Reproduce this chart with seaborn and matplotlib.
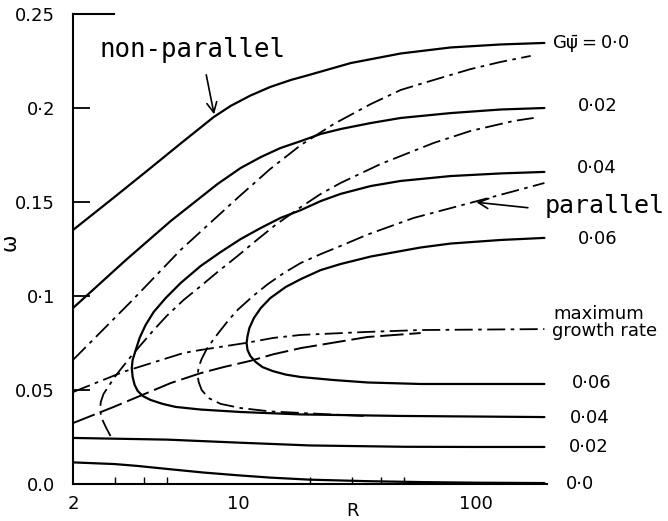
import matplotlib
matplotlib.use("Agg")
import matplotlib.pyplot as plt
from matplotlib.ticker import FixedLocator, NullFormatter
import seaborn as sns

# ---------------------------------------------------------------
# Neutral-stability curves in the (R, omega) plane
# NP = non-parallel theory (solid), P = parallel theory (chain)
# ---------------------------------------------------------------
R_NP00_UP = [2.0, 2.97, 4.25, 5.69, 7.85, 9.25, 11.2, 13.6, 16.6, 20.1, 29.7, 48.3, 78.4, 127.5, 195]
W_NP00_UP = [0.1351, 0.1523, 0.1681, 0.1811, 0.1952, 0.2011, 0.2066, 0.2112, 0.2149, 0.2178, 0.2239, 0.2290,
             0.2322, 0.2338, 0.2346]

R_NP00_LO = [2.0, 3.0, 3.75, 5.0, 7.1, 10, 13.6, 20, 35, 60, 100, 195]
W_NP00_LO = [0.0115, 0.0106, 0.0096, 0.0080, 0.0061, 0.0046, 0.0034, 0.0023, 0.0015, 0.0010, 0.0007, 0.0005]

R_NP02_UP = [2.0, 3.34, 5.17, 8.15, 10.2, 12.4, 15.0, 18.3, 22.2, 26.9, 36.1, 48.3, 78.4, 127.5, 195]
W_NP02_UP = [0.0936, 0.1191, 0.1399, 0.1596, 0.1681, 0.1739, 0.1787, 0.1824, 0.1862, 0.1888, 0.1920, 0.1947,
             0.1973, 0.1992, 0.2000]

R_NP02_LO = [2.0, 5.0, 10, 20, 50, 100, 195]
W_NP02_LO = [0.0245, 0.0236, 0.0220, 0.0205, 0.0198, 0.0197, 0.0197]

R_NP04 = [195, 127.5, 78.4, 48.3, 36.1, 26.9, 22.2, 18.3, 15.0, 12.4, 10.2, 8.40, 6.92, 5.69, 4.92, 4.38,
          4.05, 3.82, 3.68, 3.57, 3.54, 3.57, 3.64, 3.75, 3.94, 4.25, 4.78, 5.42, 6.92, 10.2, 18.3, 48.3, 195]
W_NP04 = [0.1660, 0.1652, 0.1638, 0.1612, 0.1585, 0.1543, 0.1505, 0.1457, 0.1415, 0.1362, 0.1303, 0.1234,
          0.1160, 0.1069, 0.0989, 0.0915, 0.0846, 0.0777, 0.0713, 0.0660, 0.0617, 0.0569, 0.0527, 0.0495,
          0.0468, 0.0447, 0.0426, 0.0410, 0.0396, 0.0383, 0.0370, 0.0362, 0.0356]

R_NP06 = [195, 127.5, 78.4, 58.6, 48.3, 36.1, 26.9, 22.2, 18.3, 15.8, 13.6, 12.4, 11.6, 11.1, 10.9, 10.8,
          10.9, 11.2, 11.8, 12.6, 13.9, 15.8, 18.3, 25.2, 35.0, 58.6, 195]
W_NP06 = [0.1309, 0.1298, 0.1279, 0.1258, 0.1239, 0.1210, 0.1170, 0.1138, 0.1090, 0.1048, 0.0989, 0.0936,
          0.0883, 0.0830, 0.0787, 0.0750, 0.0713, 0.0681, 0.0649, 0.0622, 0.0601, 0.0582, 0.0569, 0.0553,
          0.0540, 0.0532, 0.0532]

R_P00_UP = [2.0, 3.50, 5.69, 10, 13.6, 18.3, 25.2, 36.1, 48.3, 66.5, 95.2, 127.5, 170.7]
W_P00_UP = [0.0660, 0.0968, 0.1245, 0.1527, 0.1676, 0.1803, 0.1915, 0.2021, 0.2096, 0.2149, 0.2207, 0.2245, 0.2277]

R_P02 = [2.88, 2.75, 2.64, 2.60, 2.62, 2.69, 2.83, 3.00, 3.21, 3.50, 3.86, 4.38, 4.97, 5.86, 6.92, 8.15,
         9.90, 11.8, 14.3, 18.3, 22.2, 26.9, 39.7, 66.5, 95.2, 144.6, 175.7]
W_P02 = [0.0255, 0.0303, 0.0351, 0.0394, 0.0436, 0.0479, 0.0521, 0.0569, 0.0617, 0.0676, 0.0739, 0.0819,
         0.0894, 0.0979, 0.1053, 0.1128, 0.1213, 0.1293, 0.1378, 0.1473, 0.1543, 0.1601, 0.1702, 0.1814,
         0.1878, 0.1931, 0.1947]

R_P04 = [33.7, 24.4, 18.3, 13.6, 10.2, 8.40, 7.47, 6.98, 6.78, 6.71, 6.78, 6.98, 7.33, 7.85, 8.40, 9.07,
         9.90, 11.5, 13.3, 15.5, 18.3, 22.2, 26.9, 35.0, 54.7, 98.1, 195]
W_P04 = [0.0362, 0.0370, 0.0378, 0.0386, 0.0404, 0.0426, 0.0457, 0.0500, 0.0543, 0.0580, 0.0622, 0.0665,
         0.0718, 0.0771, 0.0819, 0.0872, 0.0926, 0.1000, 0.1064, 0.1122, 0.1176, 0.1223, 0.1266, 0.1327,
         0.1415, 0.1500, 0.1601]

# maximum growth rate loci
R_MG_A = [2.0, 3.27, 5.86, 6.92, 10.7, 14.0, 18.3, 35.0, 58.6, 195]
W_MG_A = [0.0489, 0.0597, 0.0697, 0.0713, 0.0750, 0.0777, 0.0793, 0.0809, 0.0819, 0.0824]
R_MG_B = [2.0, 2.97, 5.17, 6.92, 8.64, 11.2, 14.0, 18.3, 35.0, 58.6]
W_MG_B = [0.0324, 0.0410, 0.0537, 0.0590, 0.0622, 0.0655, 0.0690, 0.0723, 0.0782, 0.0803]

# axis ticks and labels
X_MAJOR = [2, 10, 100]
X_MAJOR_LABELS = ["2", "10", "100"]
X_MINOR = [3, 4, 5, 10, 20, 30, 40, 50, 100]
Y_TICKS = [0.0, 0.05, 0.1, 0.15, 0.2, 0.25]
Y_TICK_LABELS = ["0.0", "0.05", "0\u00b71", "0.15", "0\u00b72", "0.25"]

# curve labels at right-hand side: (text, x_px, y_px)
RIGHT_LABELS = [
    ("G$\\bar{\\psi}$\u2009=\u20090\u00b70", 552, 44),
    ("0\u00b702", 578, 106),
    ("0\u00b704", 577, 168),
    ("0\u00b706", 578, 239),
    ("maximum", 553, 314),
    ("growth rate", 552, 331),
    ("0\u00b706", 572, 383),
    ("0\u00b704", 570, 418),
    ("0\u00b702", 569, 447),
    ("0\u00b70", 566, 484),
]

W_PX, H_PX = 668, 521

sns.set_theme(style="white")
plt.rcParams["font.family"] = ["DejaVu Sans"]
plt.rcParams["mathtext.fontset"] = "dejavusans"
plt.rcParams["mathtext.default"] = "regular"

fig = plt.figure(figsize=(W_PX / 100, H_PX / 100), dpi=100, facecolor="white")
ax = fig.add_axes([73 / W_PX, 37 / H_PX, 474 / W_PX, 470 / H_PX])
ax.set_facecolor("white")


def fxy(x_px, y_px):
    return x_px / W_PX, 1 - y_px / H_PX


SOLID = dict(color="black", lw=1.6, linestyle="-")
CHAIN = dict(color="black", lw=1.3, linestyle=(0, (10, 3, 2, 3)))
LONGDASH = dict(color="black", lw=1.4, linestyle=(0, (12, 3)))

curves = [
    (R_NP00_UP, W_NP00_UP, SOLID),
    (R_NP00_LO, W_NP00_LO, SOLID),
    (R_NP02_UP, W_NP02_UP, SOLID),
    (R_NP02_LO, W_NP02_LO, SOLID),
    (R_NP04, W_NP04, SOLID),
    (R_NP06, W_NP06, SOLID),
    (R_P00_UP, W_P00_UP, CHAIN),
    (R_P02, W_P02, CHAIN),
    (R_P04, W_P04, CHAIN),
    (R_MG_A, W_MG_A, CHAIN),
    (R_MG_B, W_MG_B, LONGDASH),
]
for r, w, style in curves:
    sns.lineplot(x=r, y=w, ax=ax, sort=False, estimator=None, legend=False, **style)

ax.set_xscale("log")
ax.set_xlim(2, 200)
ax.set_ylim(0, 0.25)

# frame: left and bottom axes, short stub at top
ax.spines["right"].set_visible(False)
ax.spines["top"].set_bounds(2, 2.97)
for s in ["left", "bottom", "top"]:
    ax.spines[s].set_color("black")
    ax.spines[s].set_linewidth(1.5)

ax.xaxis.set_major_locator(FixedLocator(X_MAJOR))
ax.set_xticklabels(X_MAJOR_LABELS)
ax.xaxis.set_minor_locator(FixedLocator(X_MINOR))
ax.xaxis.set_minor_formatter(NullFormatter())
ax.tick_params(axis="x", which="major", length=0, pad=8, labelsize=13, colors="black")
ax.tick_params(axis="x", which="minor", direction="in", length=5, width=1.0, color="black", bottom=True)

ax.set_yticks(Y_TICKS)
ax.set_yticklabels(Y_TICK_LABELS)
ax.tick_params(axis="y", which="major", direction="in", length=12, width=1.3, pad=13,
               labelsize=13, colors="black", left=True)

ax.set_xlabel("R", fontsize=13, color="black")
ax.xaxis.set_label_coords(0.5907, -0.038)
ax.set_ylabel("\u03c9", fontsize=15, rotation=90, color="black")
ax.yaxis.set_label_coords(-0.112, 0.515)

# right-hand curve labels
for txt, x, y in RIGHT_LABELS:
    fig.text(*fxy(x, y), txt, ha="left", va="center", fontsize=13, color="black")

# theory annotations
mono = ["DejaVu Sans Mono"]
fig.text(*fxy(100, 57), "non-parallel", ha="left", va="baseline", fontsize=18.5,
         family=mono, color="black")
fig.text(*fxy(545, 213), "parallel", ha="left", va="baseline", fontsize=18,
         family=mono, color="black")

ax.annotate("", xy=(7.92, 0.1952), xytext=(7.26, 0.2191),
            arrowprops=dict(arrowstyle="->,head_length=0.6,head_width=0.3", color="black", lw=1.2))
ax.annotate("", xy=(98.1, 0.150), xytext=(170.6, 0.1468),
            arrowprops=dict(arrowstyle="->,head_length=0.6,head_width=0.3", color="black", lw=1.2))

fig.savefig("out.png", dpi=100, facecolor="white")
